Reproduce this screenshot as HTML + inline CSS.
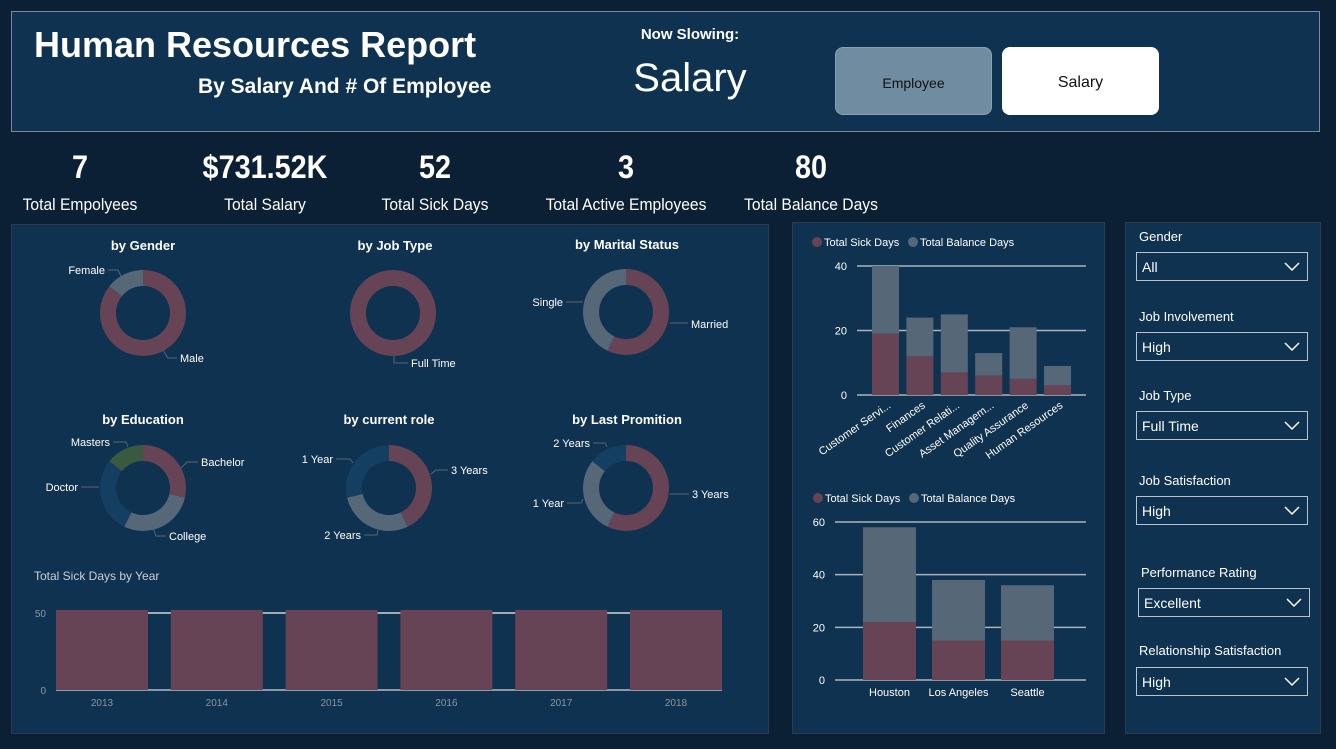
<!DOCTYPE html>
<html><head><meta charset="utf-8">
<style>
*{margin:0;padding:0;box-sizing:border-box}
body{width:1336px;height:749px;background:#0c2035;font-family:"Liberation Sans",sans-serif;color:#fff;position:relative;overflow:hidden}
.abs{position:absolute}
.panel{position:absolute;background:#0f3250;border:1px solid #2d3b4e}
.kv{position:absolute;font-size:32px;font-weight:bold;text-align:center;width:220px;top:149px;transform:scaleX(0.9)}
.kl{position:absolute;font-size:17px;font-family:"Liberation Sans",sans-serif;text-align:center;width:220px;top:195px;transform:scaleX(0.92)}
.sl{position:absolute;font-family:"Liberation Sans",sans-serif;font-size:13px;color:#fff;left:1139px}
.sb{position:absolute;left:1136px;width:172px;height:29px;border:1px solid #b8c2cc;font-family:"Liberation Sans",sans-serif;font-size:14px;padding:6px 0 0 5px}
.sb svg{position:absolute;right:7px;top:9px}
</style></head><body>
<div class="panel" style="left:11px;top:11px;width:1309px;height:121px;border-color:#7a8a9a"></div>
<div class="abs" style="left:34px;top:24px;font-size:36px;font-weight:bold">Human Resources Report</div>
<div class="abs" style="left:198px;top:75px;font-size:21px;font-weight:bold;transform:scaleX(1.0);transform-origin:left">By Salary And # Of Employee</div>
<div class="abs" style="left:600px;width:180px;text-align:center;top:26px;font-size:15px;font-weight:bold">Now Slowing:</div>
<div class="abs" style="left:600px;width:180px;text-align:center;top:56px;font-size:40px">Salary</div>
<div class="abs" style="left:835px;top:47px;width:157px;height:68px;background:#6f8ca1;border:1px solid #8aa0b2;border-radius:8px;color:#111;font-size:14px;text-align:center;line-height:70px">Employee</div>
<div class="abs" style="left:1002px;top:47px;width:157px;height:68px;background:#fff;border-radius:8px;color:#111;font-size:16px;text-align:center;line-height:72px">Salary</div>

<div class="kv" style="left:-30px">7</div>
<div class="kl" style="left:-30px">Total Empolyees</div>
<div class="kv" style="left:155px">$731.52K</div>
<div class="kl" style="left:155px">Total Salary</div>
<div class="kv" style="left:325px">52</div>
<div class="kl" style="left:325px">Total Sick Days</div>
<div class="kv" style="left:516px">3</div>
<div class="kl" style="left:516px">Total Active Employees</div>
<div class="kv" style="left:701px">80</div>
<div class="kl" style="left:701px">Total Balance Days</div>

<div class="panel" style="left:11px;top:224px;width:758px;height:510px"></div>
<div class="panel" style="left:792px;top:222px;width:313px;height:512px"></div>
<div class="panel" style="left:1125px;top:222px;width:196px;height:512px"></div>

<div class="sl" style="top:229px">Gender</div>
<div class="sb" style="top:252px">All<svg width="16" height="10"><path d="M1 1 L8 8 L15 1" stroke="#fff" fill="none" stroke-width="1.5"/></svg></div>
<div class="sl" style="top:309px">Job Involvement</div>
<div class="sb" style="top:332px">High<svg width="16" height="10"><path d="M1 1 L8 8 L15 1" stroke="#fff" fill="none" stroke-width="1.5"/></svg></div>
<div class="sl" style="top:388px">Job Type</div>
<div class="sb" style="top:411px">Full Time<svg width="16" height="10"><path d="M1 1 L8 8 L15 1" stroke="#fff" fill="none" stroke-width="1.5"/></svg></div>
<div class="sl" style="top:473px">Job Satisfaction</div>
<div class="sb" style="top:496px">High<svg width="16" height="10"><path d="M1 1 L8 8 L15 1" stroke="#fff" fill="none" stroke-width="1.5"/></svg></div>
<div class="sl" style="top:565px;left:1141px">Performance Rating</div>
<div class="sb" style="top:588px;left:1138px">Excellent<svg width="16" height="10"><path d="M1 1 L8 8 L15 1" stroke="#fff" fill="none" stroke-width="1.5"/></svg></div>
<div class="sl" style="top:643px">Relationship Satisfaction</div>
<div class="sb" style="top:667px">High<svg width="16" height="10"><path d="M1 1 L8 8 L15 1" stroke="#fff" fill="none" stroke-width="1.5"/></svg></div>

<svg id="chart" class="abs" style="left:0;top:0" width="1336" height="749"></svg>

<script>
// Department chart
const deptCats=["Customer Servi...","Finances","Customer Relati...","Asset Managem...","Quality Assurance","Human Resources"];
const deptSick=[19,12,7,6,5,3];
const deptBalance=[21,12,18,7,16,6];
const deptTicks=[0,20,40];
// City chart
const cityCats=["Houston","Los Angeles","Seattle"];
const citySick=[22,15,15];
const cityBalance=[36,23,21];
const cityTicks=[0,20,40,60];
// Year chart
const years=["2013","2014","2015","2016","2017","2018"];
const yearSick=[52,52,52,52,52,52];
const yearTicks=[0,50];
// Donuts
const genderLabels=["Male","Female"];const genderValues=[6,1];
const jobLabels=["Full Time"];const jobValues=[7];
const maritalLabels=["Married","Single"];const maritalValues=[4,3];
const eduLabels=["Bachelor","College","Doctor","Masters"];const eduValues=[2,2,2,1];
const roleLabels=["3 Years","2 Years","1 Year"];const roleValues=[3,2,2];
const promoLabels=["3 Years","1 Year","2 Years"];const promoValues=[4,2,1];

const NS="http://www.w3.org/2000/svg";
const svg=document.getElementById('chart');
const MAROON="#664455",GREY="#566778",BLUE="#143f62",GREEN="#3a5a40";
function mk(tag,attrs,parent){const e=document.createElementNS(NS,tag);for(const k in attrs)e.setAttribute(k,attrs[k]);(parent||svg).appendChild(e);return e;}
function txt(x,y,s,size,fill,anchor,weight){const t=mk('text',{x:x,y:y,'font-size':size,fill:fill,'text-anchor':anchor||'start','font-weight':weight||'normal','font-family':'Liberation Sans, sans-serif'});t.textContent=s;return t;}

function stacked(cats,s1,s2,ticks,max,x0,x1,yBase,yTop,firstC,step,bw,rot,legY,legX,name){
  const y=v=>yBase-(v/max)*(yBase-yTop);
  ticks.forEach(tv=>{
    const l=mk('line',{x1:x0,x2:x1,y1:y(tv),y2:y(tv),stroke:'#aab4be','stroke-width':1.5});
    
    
    const t=txt(x0-10,y(tv)+4,String(tv),11,'#fff','end');
    
    
  });
  cats.forEach((c,i)=>{
    const cx=firstC+i*step;
    const a=mk('rect',{x:cx-bw/2,y:y(s1[i]),width:bw,height:yBase-y(s1[i]),fill:MAROON});
    
    
    const b=mk('rect',{x:cx-bw/2,y:y(s1[i]+s2[i]),width:bw,height:y(s1[i])-y(s1[i]+s2[i]),fill:GREY});
    
    
    let t;
    if(rot){t=txt(cx+6,yBase+12,c,11,'#fff','end');t.setAttribute('transform','rotate(-35 '+(cx+6)+' '+(yBase+12)+')');}
    else t=txt(cx,yBase+16,c,11,'#fff','middle');
    
    
  });
  const c1=mk('circle',{cx:legX,cy:legY,r:5,fill:MAROON});
  
  
  const l1=txt(legX+7,legY+4,'Total Sick Days',11,'#fff');
  
  
  const c2=mk('circle',{cx:legX+96,cy:legY,r:5,fill:GREY});
  
  
  const l2=txt(legX+103,legY+4,'Total Balance Days',11,'#fff');
  
  
}
stacked(deptCats,deptSick,deptBalance,deptTicks,40,857,1086,395,266,885.5,34.4,27,true,242,817,'department-chart');
stacked(cityCats,citySick,cityBalance,cityTicks,60,835,1086,680,522,889.5,69,53,false,498,818,'city-chart');

// Year chart
(function(){
  const yB=690,yT=613,max=50;const y=v=>yB-(v/max)*(yB-yT);
  const tl=txt(34,580,'Total Sick Days by Year',12,'#c8d0d8');
  
  
  yearTicks.forEach(tv=>{
    const l=mk('line',{x1:56,x2:722,y1:y(tv),y2:y(tv),stroke:tv===0?'#8a9aa8':'#d0d6dc','stroke-width':tv===0?2:1.5});
    
    
    const t=txt(46,y(tv)+4,String(tv),10,'#8a96a2','end');
    
    
  });
  years.forEach((yr,i)=>{
    const cx=102+i*114.8;
    const r=mk('rect',{x:cx-46,y:y(yearSick[i]),width:92,height:yB-y(yearSick[i]),fill:MAROON});
    
    
    const t=txt(cx,706,yr,10,'#8a96a2','middle');
    
    
  });
})();

// Donuts
function donut(title,labels,values,colors,cx,cy,tx,ty,labelPos,name){
  const t=txt(tx,ty,title,13,'#fff','middle','bold');
  
  
  const total=values.reduce((a,b)=>a+b,0);
  const R=43,r=27;let a0=0;
  values.forEach((v,i)=>{
    const a1=a0+v/total*2*Math.PI;
    let el;
    if(v===total){
      el=mk('circle',{cx:cx,cy:cy,r:(R+r)/2,fill:'none',stroke:colors[i],'stroke-width':R-r});
    }else{
      const p=(rad,a)=>[cx+rad*Math.sin(a),cy-rad*Math.cos(a)];
      const lg=(a1-a0)>Math.PI?1:0;
      const [x1,y1]=p(R,a0),[x2,y2]=p(R,a1),[x3,y3]=p(r,a1),[x4,y4]=p(r,a0);
      el=mk('path',{d:`M${x1} ${y1}A${R} ${R} 0 ${lg} 1 ${x2} ${y2}L${x3} ${y3}A${r} ${r} 0 ${lg} 0 ${x4} ${y4}Z`,fill:colors[i]});
    }
    
    
    const lp=labelPos[i];
    const ln=mk('polyline',{points:lp.line,fill:'none',stroke:'#55657a','stroke-width':1});
    
    
    const lt=txt(lp.x,lp.y,labels[i],11,'#fff',lp.a,'normal');
    
    
    a0=a1;
  });
}
donut('by Gender',genderLabels,genderValues,[MAROON,GREY],143,313,143,250,
  [{x:180,y:362,a:'start',line:'163,350 168,358 177,358'},{x:105,y:274,a:'end',line:'108,270 118,270 121,276'}],'gender-donut');
donut('by Job Type',jobLabels,jobValues,[MAROON],393,313,395,250,
  [{x:411,y:367,a:'start',line:'394,356 394,363 408,363'}],'job-type-donut');
donut('by Marital Status',maritalLabels,maritalValues,[MAROON,GREY],626,312,627,249,
  [{x:691,y:328,a:'start',line:'670,323 688,323'},{x:563,y:306,a:'end',line:'566,302 583,302'}],'marital-donut');
donut('by Education',eduLabels,eduValues,[MAROON,GREY,BLUE,GREEN],143,488,143,424,
  [{x:201,y:466,a:'start',line:'181,468 187,462 198,462'},{x:169,y:540,a:'start',line:'153,528 156,536 166,536'},{x:78,y:491,a:'end',line:'81,487 99,487'},{x:110,y:446,a:'end',line:'113,442 126,442 128,447'}],'education-donut');
donut('by current role',roleLabels,roleValues,[MAROON,GREY,BLUE],389,488,389,424,
  [{x:451,y:474,a:'start',line:'431,474 436,470 448,470'},{x:361,y:539,a:'end',line:'364,535 377,535 378,530'},{x:333,y:463,a:'end',line:'336,459 350,459 353,463'}],'role-donut');
donut('by Last Promition',promoLabels,promoValues,[MAROON,GREY,BLUE],626,488,627,424,
  [{x:692,y:498,a:'start',line:'670,494 689,494'},{x:564,y:507,a:'end',line:'567,503 581,503 583,499'},{x:590,y:447,a:'end',line:'593,443 605,443 607,447'}],'promotion-donut');
</script>
</body></html>
